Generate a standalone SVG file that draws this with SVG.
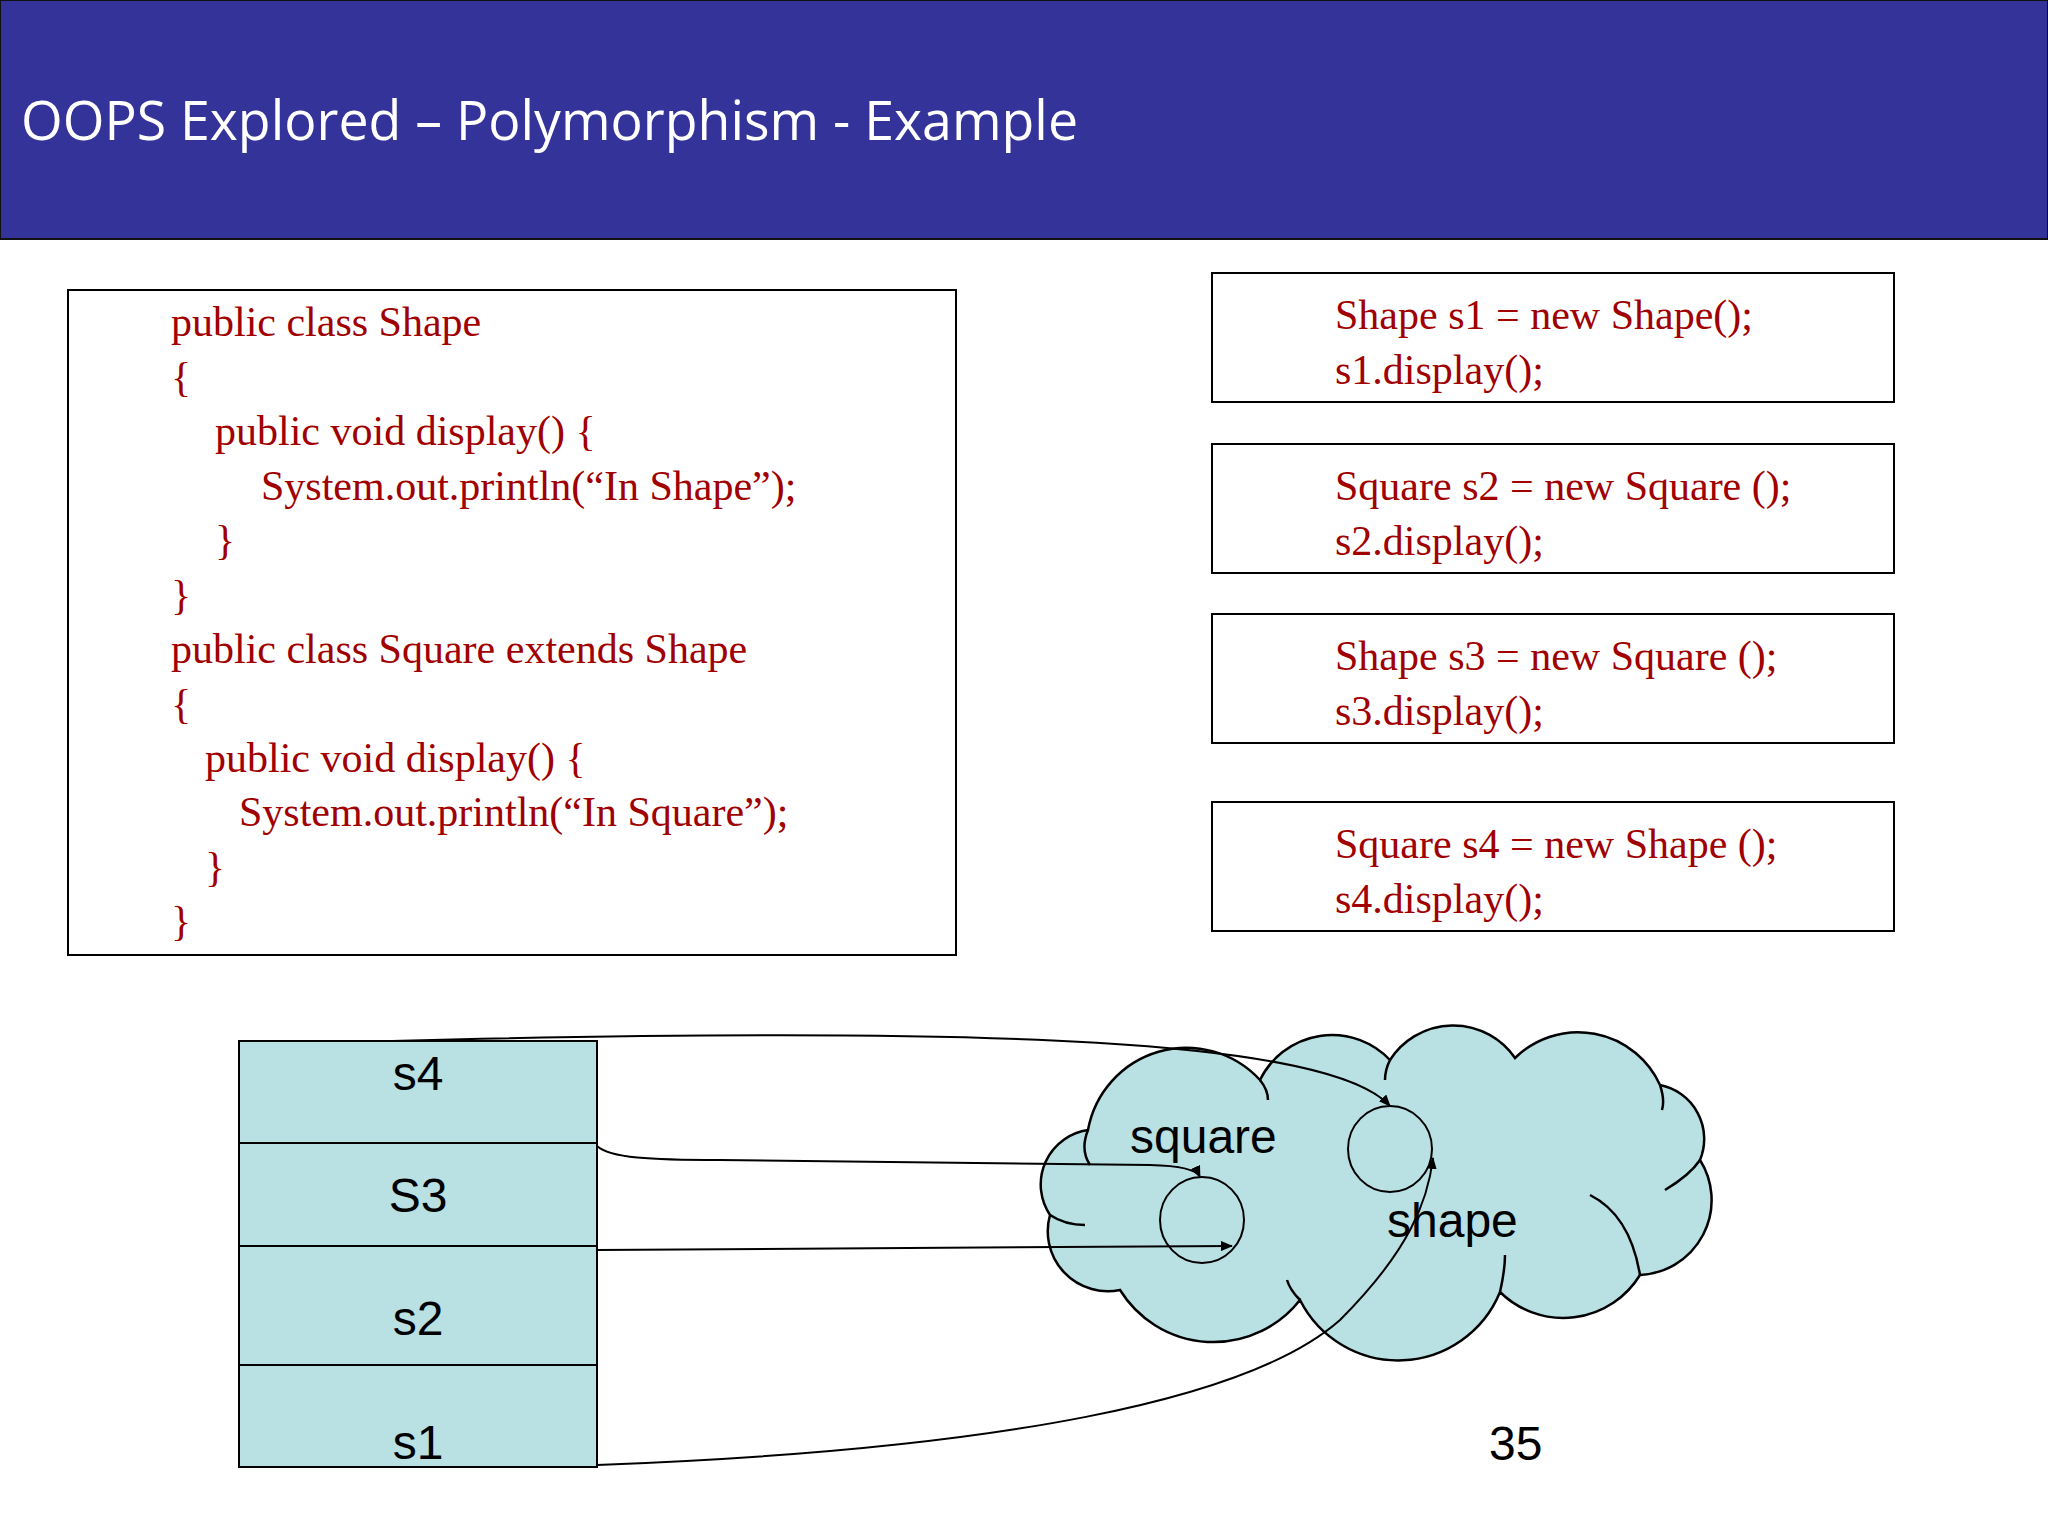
<svg xmlns="http://www.w3.org/2000/svg" width="2048" height="1536" viewBox="0 0 2048 1536">
<defs>
<marker id="ah" markerWidth="12" markerHeight="10" refX="11" refY="5" orient="auto" markerUnits="userSpaceOnUse"><path d="M0,0 L12,5 L0,10 Z" fill="#000"/></marker>
<style>
.code{font-family:"Liberation Serif",serif;font-size:42px;fill:#a00000}
.lbl{font-family:"Liberation Sans",Arial,sans-serif;font-size:48px;fill:#000}
.box{fill:#fff;stroke:#000;stroke-width:2}
.cell{fill:#b9e0e3;stroke:#000;stroke-width:2}
.con{fill:none;stroke:#000;stroke-width:2;marker-end:url(#ah)}
</style>
</defs>
<rect width="2048" height="1536" fill="#fff"/>
<g id="header">
<rect x="0" y="0" width="2048" height="239" fill="#333399" stroke="#111" stroke-width="2"/>
<text x="21" y="140" font-family="Open Sans,sans-serif" font-size="54" fill="#fff" textLength="1057" lengthAdjust="spacingAndGlyphs">OOPS Explored – Polymorphism - Example</text>
</g>
<g id="code-box">
<rect class="box" x="68" y="290" width="888" height="665"/>
<text class="code" x="171" y="336">public class Shape</text>
<text class="code" x="171" y="391">{</text>
<text class="code" x="215" y="445">public void display()  {</text>
<text class="code" x="261" y="500">System.out.println(“In Shape”);</text>
<text class="code" x="215" y="554">}</text>
<text class="code" x="171" y="609">}</text>
<text class="code" x="171" y="663">public class Square extends Shape</text>
<text class="code" x="171" y="718">{</text>
<text class="code" x="205" y="772">public void display()  {</text>
<text class="code" x="239" y="826">System.out.println(“In Square”);</text>
<text class="code" x="205" y="881">}</text>
<text class="code" x="171" y="935">}</text>
</g>
<g id="stmt1"><rect class="box" x="1212" y="273" width="682" height="129"/>
<text class="code" x="1335" y="329">Shape s1 = new Shape();</text><text class="code" x="1335" y="384">s1.display();</text></g>
<g id="stmt2"><rect class="box" x="1212" y="444" width="682" height="129"/>
<text class="code" x="1335" y="500">Square s2 = new Square ();</text><text class="code" x="1335" y="555">s2.display();</text></g>
<g id="stmt3"><rect class="box" x="1212" y="614" width="682" height="129"/>
<text class="code" x="1335" y="670">Shape s3 = new Square ();</text><text class="code" x="1335" y="725">s3.display();</text></g>
<g id="stmt4"><rect class="box" x="1212" y="802" width="682" height="129"/>
<text class="code" x="1335" y="858">Square s4 = new Shape ();</text><text class="code" x="1335" y="913">s4.display();</text></g>
<g id="stack">
<rect class="cell" x="239" y="1041" width="358" height="102"/>
<rect class="cell" x="239" y="1143" width="358" height="103"/>
<rect class="cell" x="239" y="1246" width="358" height="119"/>
<rect class="cell" x="239" y="1365" width="358" height="102"/>
<text class="lbl" x="418" y="1090" text-anchor="middle">s4</text>
<text class="lbl" x="418" y="1212" text-anchor="middle">S3</text>
<text class="lbl" x="418" y="1335" text-anchor="middle">s2</text>
<text class="lbl" x="418" y="1459" text-anchor="middle">s1</text>
</g>
<g id="heap">
<path d="M1050,1215 A55,55 0 0 1 1088,1130 A100,100 0 0 1 1260,1080 A80,80 0 0 1 1390,1060 A75,75 0 0 1 1515,1058 A90,90 0 0 1 1660,1085 A55,55 0 0 1 1700,1160 A75,75 0 0 1 1640,1275 A90,90 0 0 1 1500,1292 A110,110 0 0 1 1300,1300 A110,110 0 0 1 1120,1290 A60,60 0 0 1 1050,1215 Z" fill="#b9e0e3" stroke="#000" stroke-width="2.5"/>
<path d="M1088,1130 Q1080,1150 1090,1165 M1050,1215 Q1065,1225 1085,1225 M1260,1080 Q1268,1090 1268,1100 M1390,1060 Q1385,1070 1385,1080 M1660,1085 Q1665,1100 1662,1110 M1700,1160 Q1690,1175 1665,1190 M1640,1275 Q1630,1215 1590,1195 M1500,1292 Q1505,1270 1505,1255 M1300,1300 Q1290,1290 1287,1280" fill="none" stroke="#000" stroke-width="2.5"/>
<ellipse cx="1202" cy="1220" rx="42" ry="43" fill="none" stroke="#000" stroke-width="2"/>
<ellipse cx="1390" cy="1149" rx="42" ry="43" fill="none" stroke="#000" stroke-width="2"/>
<text class="lbl" x="1130" y="1153">square</text>
<text class="lbl" x="1387" y="1237">shape</text>
</g>
<g id="connectors">
<path class="con" d="M392,1041 C1000,1025 1330,1040 1390,1106"/>
<path class="con" d="M597,1146 C610,1158 650,1160 720,1160 L1150,1165 Q1195,1166 1200,1177"/>
<path class="con" d="M597,1250 L1232,1246"/>
<path class="con" d="M597,1465 C1000,1450 1250,1400 1340,1320 C1410,1250 1428,1200 1433,1158"/>
</g>
<text class="lbl" x="1489" y="1460">35</text>
</svg>
